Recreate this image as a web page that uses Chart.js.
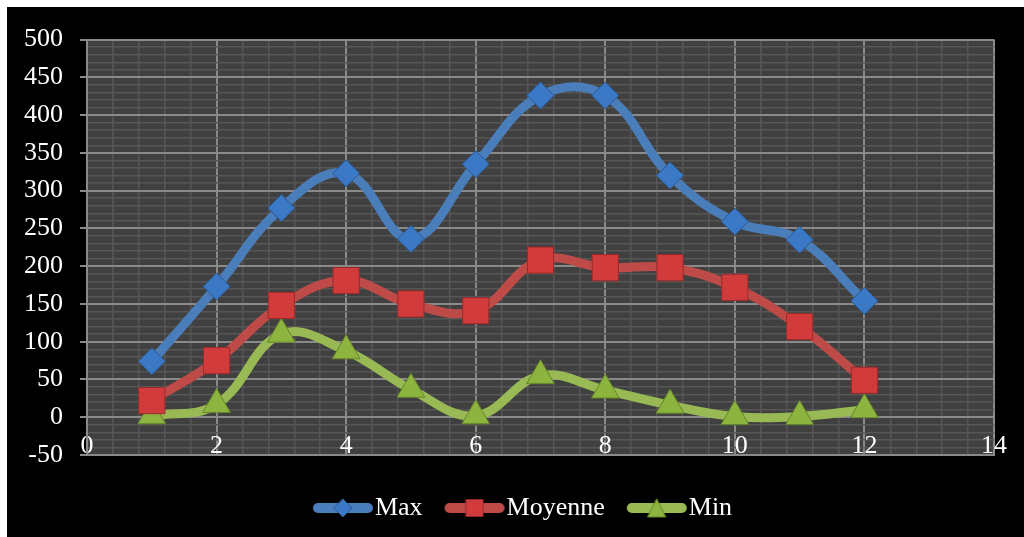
<!DOCTYPE html>
<html>
<head>
<meta charset="utf-8">
<script src="https://cdn.jsdelivr.net/npm/chart.js@4.4.1/dist/chart.umd.min.js"></script>
<style>
html, body { margin: 0; padding: 0; background: #fff; }
#frame { position: absolute; left: 7px; top: 7px; width: 1017px; height: 530px; background: #000; }
</style>
</head>
<body>
<div id="frame"><canvas id="Chart" width="1017" height="530"></canvas></div>
<script>
// values
let months = [1, 2, 3, 4, 5, 6, 7, 8, 9, 10, 11, 12];
let max_vals = [74, 173, 277, 323, 236, 335, 426, 426, 320, 259, 235, 154];
let moy_vals = [22, 75, 148, 181, 150, 141, 208, 198, 198, 172, 120, 49];
let min_vals = [2, 17, 110, 88, 37, 2, 55, 36, 16, 1, 1, 10];
let labels = ['Max', 'Moyenne', 'Min'];

const majorGrid = '#8a8a8a';
const minorGrid = '#565656';
const font = { family: "'Liberation Serif', 'Times New Roman', serif", size: 26 };

let toPoints = function(vals) {
    return months.map((m, i) => ({ x: m, y: vals[i] }));
}

// small legend sample: thick line with the marker in the middle
let legendIcon = function(color, fill, edge, shape) {
    const cv = document.createElement('canvas');
    cv.width = 100; cv.height = 24;
    const c = cv.getContext('2d');
    c.strokeStyle = color;
    c.lineWidth = 10;
    c.lineCap = 'round';
    c.beginPath(); c.moveTo(31, 12); c.lineTo(81, 12); c.stroke();
    c.fillStyle = fill;
    c.strokeStyle = edge;
    c.lineWidth = 1;
    c.beginPath();
    if (shape == 'diamond') {
        c.moveTo(56, 3); c.lineTo(65, 12); c.lineTo(56, 21); c.lineTo(47, 12);
    } else if (shape == 'square') {
        c.rect(47.5, 3.5, 17, 17);
    } else {
        c.moveTo(56, 3); c.lineTo(65, 21); c.lineTo(47, 21);
    }
    c.closePath();
    c.fill(); c.stroke();
    return cv;
}

let icons = [
    legendIcon('#4a7ebb', '#3b78c6', '#2a5891', 'diamond'),
    legendIcon('#be4b48', '#d23b3b', '#9a2a2a', 'square'),
    legendIcon('#98b954', '#8cb43e', '#66862a', 'triangle')
];

const plotBg = {
    id: 'plotBg',
    beforeDraw(chart) {
        const a = chart.chartArea;
        const c = chart.ctx;
        c.save();
        c.fillStyle = '#404040';
        c.fillRect(a.left, a.top, a.right - a.left, a.bottom - a.top);
        c.restore();
    }
};

let isMult = function(v, step) {
    return Math.abs(v / step - Math.round(v / step)) < 1e-6;
}

// labels sit outside the (shrunk) axis boxes, so don't clip them
let noClip = function(scale) {
    scale._computeLabelArea = function() { return undefined; };
}

const ctx = document.getElementById('Chart');

let chart = new Chart(ctx, {
    type: 'line',
    data: {
        datasets: [{
            label: labels[0],
            data: toPoints(max_vals),
            borderColor: '#4a7ebb',
            borderWidth: 9,
            pointStyle: 'rectRot',
            pointRadius: 13.5,
            pointBackgroundColor: '#3b78c6',
            pointBorderColor: '#2a5891',
            pointBorderWidth: 1
        },
        {
            label: labels[1],
            data: toPoints(moy_vals),
            borderColor: '#be4b48',
            borderWidth: 9,
            pointStyle: 'rect',
            pointRadius: 18.5,
            pointBackgroundColor: '#d23b3b',
            pointBorderColor: '#9a2a2a',
            pointBorderWidth: 1
        },
        {
            label: labels[2],
            data: toPoints(min_vals),
            borderColor: '#98b954',
            borderWidth: 9,
            pointStyle: 'triangle',
            pointRadius: 16,
            pointBackgroundColor: '#8cb43e',
            pointBorderColor: '#66862a',
            pointBorderWidth: 1
        }]
    },
    options: {
        responsive: false,
        animation: false,
        elements: {
            line: { tension: 0.4, borderCapStyle: 'round', borderJoinStyle: 'round', fill: false }
        },
        layout: { padding: { left: 43, right: 30, top: 24, bottom: 6 } },
        scales: {
            x: {
                type: 'linear',
                min: 0,
                max: 14,
                afterFit: function(scale) { scale.height = 19; noClip(scale); },
                grid: {
                    drawTicks: false,
                    lineWidth: ctx => (ctx.tick && isMult(ctx.tick.value, 2)) ? 2 : 1.5,
                    color: ctx => (ctx.tick && isMult(ctx.tick.value, 2)) ? majorGrid : minorGrid
                },
                border: { color: majorGrid, width: 2 },
                ticks: {
                    stepSize: 0.4,
                    autoSkip: false,
                    maxRotation: 0,
                    padding: -24,
                    color: '#fff',
                    font: font,
                    callback: function(value) {
                        return isMult(value, 2) ? Math.round(value) : '';
                    }
                }
            },
            y: {
                min: -50,
                max: 500,
                afterFit: function(scale) { scale.width = 37; noClip(scale); },
                grid: {
                    tickLength: 7,
                    lineWidth: ctx => (ctx.tick && isMult(ctx.tick.value, 50)) ? 2 : 1.5,
                    color: ctx => (ctx.tick && isMult(ctx.tick.value, 50)) ? majorGrid : minorGrid,
                    tickColor: ctx => (ctx.tick && isMult(ctx.tick.value, 50)) ? majorGrid : 'rgba(0,0,0,0)'
                },
                border: { color: majorGrid, width: 2 },
                ticks: {
                    stepSize: 10,
                    autoSkip: false,
                    padding: 17,
                    color: '#fff',
                    font: font,
                    callback: function(value) {
                        return isMult(value, 50) ? value : '';
                    }
                }
            }
        },
        plugins: {
            title: { display: false },
            tooltip: { enabled: false },
            legend: {
                display: true,
                position: 'bottom',
                labels: {
                    usePointStyle: true,
                    pointStyleWidth: 50,
                    padding: 21,
                    color: '#fff',
                    font: font,
                    generateLabels: function(chart) {
                        return chart.data.datasets.map((ds, i) => ({
                            text: ds.label,
                            fillStyle: ds.borderColor,
                            strokeStyle: ds.borderColor,
                            fontColor: '#fff',
                            lineWidth: 0,
                            pointStyle: icons[i],
                            datasetIndex: i,
                            hidden: false
                        }));
                    }
                }
            }
        }
    },
    plugins: [plotBg]
});
</script>
</body>
</html>
